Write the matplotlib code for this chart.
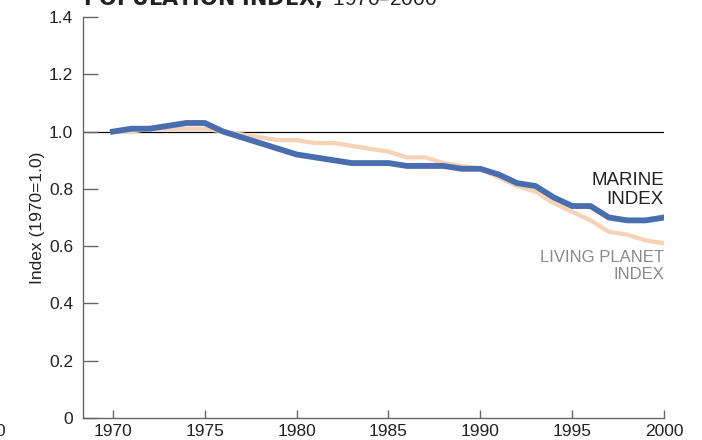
import numpy as np
import matplotlib
matplotlib.use("Agg")
import matplotlib.pyplot as plt

plt.rcParams['font.family'] = ['Liberation Sans', 'DejaVu Sans']

years = np.arange(1970, 2001)
marine = [1.00, 1.01, 1.01, 1.02, 1.03, 1.03, 1.00, 0.98, 0.96, 0.94,
          0.92, 0.91, 0.90, 0.89, 0.89, 0.89, 0.88, 0.88, 0.88, 0.87,
          0.87, 0.85, 0.82, 0.81, 0.77, 0.74, 0.74, 0.70, 0.69, 0.69, 0.70]
living_planet = [1.00, 1.00, 1.01, 1.01, 1.01, 1.01, 1.00, 0.99, 0.98, 0.97,
                 0.97, 0.96, 0.96, 0.95, 0.94, 0.93, 0.91, 0.91, 0.89, 0.88,
                 0.87, 0.84, 0.81, 0.79, 0.75, 0.72, 0.69, 0.65, 0.64, 0.62, 0.61]
xticks = [1970, 1975, 1980, 1985, 1990, 1995, 2000]
yticks = [0, 0.2, 0.4, 0.6, 0.8, 1.0, 1.2, 1.4]
ytick_labels = ["0", "0.2", "0.4", "0.6", "0.8", "1.0", "1.2", "1.4"]

fig = plt.figure(figsize=(7.02, 4.40), dpi=100)
ax = fig.add_axes([83/702, 1 - 418/440, (664 - 83)/702, (418 - 17)/440])

ax.hlines(1.0, 1968.37, 2000, color="black", lw=0.9, zorder=1)
ax.plot(years, living_planet, color="#f7d3b6", lw=3.1, zorder=2, solid_joinstyle="miter")
ax.plot(years, marine, color="#4a6db0", lw=4.2, zorder=3, solid_joinstyle="miter")

ax.set_xlim(1968.37, 2000)
ax.set_ylim(0, 1.4)
ax.set_xticks(xticks)
ax.set_yticks(yticks)
ax.set_yticklabels(ytick_labels)

for s in ["top", "right"]:
    ax.spines[s].set_visible(False)
for s in ["left", "bottom"]:
    ax.spines[s].set_color("#666666")
    ax.spines[s].set_linewidth(1.0)

ax.tick_params(axis="y", direction="in", length=10.5, width=1.0, color="#666666",
               pad=7, labelsize=12.5, labelcolor="#222222")
ax.tick_params(axis="x", direction="in", length=6, width=1.0, color="#666666",
               pad=4, labelsize=12.5, labelcolor="#222222")

ax.set_ylabel("Index (1970=1.0)", fontsize=12.5, color="#222222", labelpad=3)

ax.text(2000, 0.796, "MARINE\nINDEX", ha="right", va="center", fontsize=13.5,
        color="#222222", linespacing=1.1)
ax.text(2000, 0.53, "LIVING PLANET\nINDEX", ha="right", va="center", fontsize=12,
        color="#8a8a8a", linespacing=1.15)

fig.text(83/702, 1 - 5/440, r"$\bf{POPULATION\ INDEX,}$ 1970–2000", fontsize=15,
         color="#222222", va="baseline", ha="left")
fig.text(-5/702, 1 - 436/440, "0", fontsize=12.5, color="#222222", va="baseline", ha="left")

fig.savefig("out.png", dpi=100)
